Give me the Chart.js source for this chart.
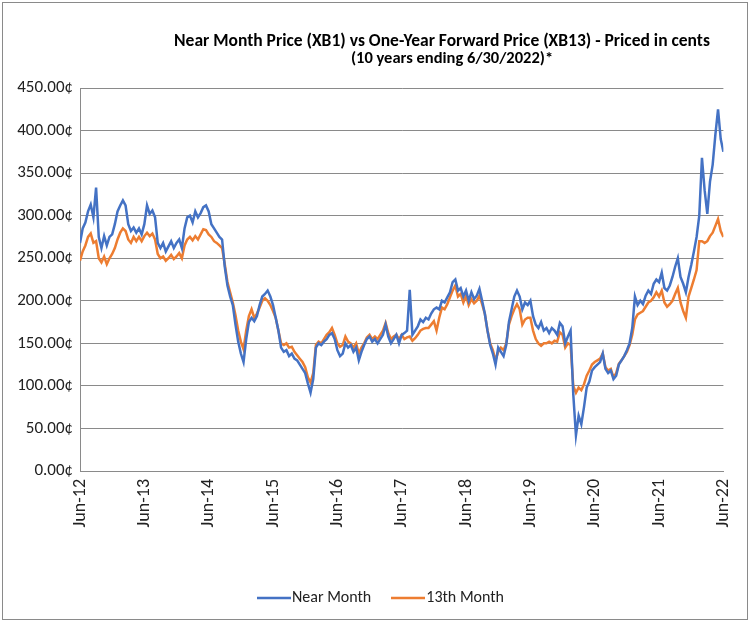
<!DOCTYPE html>
<html>
<head>
<meta charset="utf-8">
<script src="https://cdn.jsdelivr.net/npm/chart.js@4"></script>
<style>
  html, body { margin: 0; padding: 0; background: #fff; }
  #wrap { position: relative; width: 753px; height: 626px; }
  #frame { position: absolute; left: 2px; top: 2px; width: 746px; height: 618px; border: 1px solid #8a8a8a; box-sizing: border-box; pointer-events: none; }
  canvas { position: absolute; left: 0; top: 0; }
  .t { position: absolute; text-align: center; font-family: Carlito, Lato, "Open Sans", sans-serif; color: #000; font-weight: bold; white-space: nowrap; }
  #title { left: 142px; width: 600px; top: 29px; font-size: 17.5px; }
  #sub { left: 252px; width: 400px; top: 47px; font-size: 16.5px; }
</style>
</head>
<body>
<div id="wrap">
  <canvas id="c" width="753" height="626"></canvas>
  <div id="frame"></div>
  <div class="t" id="title">Near Month Price (XB1) vs One-Year Forward Price (XB13) - Priced in cents</div>
  <div class="t" id="sub">(10 years ending 6/30/2022)*</div>
</div>
<script>
// Semi-monthly readings, Jun-2012 .. Jun-2022 (step = half a month)
const stepMonths = 0.5;
const startYear = 12;
const tickYears = [12,13,14,15,16,17,18,19,20,21,22];
const seriesNames = ["Near Month", "13th Month"];
const seriesColors = ["#4472C4", "#ED7D31"];

const nearMonth = [
268,285,292,305,313,298,333,275,262,276,265,275,278,290,305,312,318,312,290,282,286,280,285,278,
290,312,302,306,298,268,262,268,258,264,270,262,268,272,262,285,298,300,292,305,298,303,310,312,
305,290,285,280,275,272,240,218,205,195,172,152,138,128,155,175,180,176,182,195,205,208,212,205,
195,180,165,145,140,142,135,138,132,130,125,120,115,103,92,108,145,150,148,152,155,160,162,155,
142,135,138,150,145,148,140,145,130,140,148,155,158,152,155,150,155,160,172,158,150,155,160,150,
160,162,165,213,160,165,170,178,175,180,178,185,190,192,190,200,198,204,210,222,225,212,215,205,
212,200,210,202,206,214,200,185,165,148,138,125,145,140,135,148,175,190,205,212,205,190,198,195,
200,182,172,168,175,165,168,162,168,165,160,174,170,150,158,165,90,42,65,55,75,98,105,118,
122,125,128,138,120,115,118,108,112,125,130,135,142,150,168,205,195,200,196,206,212,208,220,225,
222,233,215,212,218,228,240,250,228,220,210,228,242,258,275,300,368,330,302,340,360,395,425,390,
375
];

const month13 = [
247,258,265,275,279,268,270,250,245,252,243,250,255,262,272,280,285,282,272,268,275,270,275,270,
276,280,276,279,272,255,250,252,247,250,254,249,252,256,250,265,272,275,271,276,272,278,284,283,
278,275,270,268,265,262,243,222,210,198,183,165,152,143,165,182,190,180,185,192,200,203,200,195,
188,180,165,150,148,150,145,146,140,136,132,128,122,110,104,115,148,152,150,155,160,163,168,160,
150,146,148,158,152,150,145,150,138,145,150,157,160,155,158,155,160,165,174,162,155,158,160,155,
160,155,157,158,153,156,160,165,167,168,168,172,176,165,180,192,190,196,204,212,218,205,208,198,
206,195,202,197,200,206,196,185,165,150,142,130,140,145,142,150,172,182,190,196,190,172,178,180,
180,165,155,150,147,150,150,152,150,153,152,163,160,145,150,148,100,92,98,95,102,112,118,125,
128,130,132,138,122,118,120,110,115,126,130,135,140,148,160,178,184,186,188,193,198,200,204,210,
205,212,198,193,196,200,208,215,198,188,180,205,215,225,236,270,270,268,270,276,280,288,296,282,
275
];

const yTicks = { min: 0, max: 450, step: 50 };

const toPoints = arr => arr.map((v, i) => ({ x: i * stepMonths, y: v }));
const FONT = "Carlito, Lato, 'Open Sans', sans-serif";

// legend line swatch (a short line that ends right before the label text)
function swatch(color) {
  const c = document.createElement('canvas');
  c.width = 34; c.height = 4;
  const g = c.getContext('2d');
  g.strokeStyle = color; g.lineWidth = 2.5;
  g.beginPath(); g.moveTo(0, 2); g.lineTo(34, 2); g.stroke();
  return c;
}

const shiftLegend = {
  id: 'shiftLegend',
  afterLayout(chart) {
    if (chart.legend) { chart.legend.left += 18; chart.legend.right += 18; }
  }
};

new Chart(document.getElementById('c'), {
  type: 'line',
  data: {
    datasets: [
      { label: seriesNames[0], data: toPoints(nearMonth), borderColor: seriesColors[0], backgroundColor: seriesColors[0], borderWidth: 2.5, pointRadius: 0, pointStyle: swatch(seriesColors[0]), tension: 0 },
      { label: seriesNames[1], data: toPoints(month13), borderColor: seriesColors[1], backgroundColor: seriesColors[1], borderWidth: 2.5, pointRadius: 0, pointStyle: swatch(seriesColors[1]), tension: 0 }
    ]
  },
  plugins: [shiftLegend],
  options: {
    responsive: false,
    animation: false,
    layout: { padding: { left: 0, right: 21, top: 88, bottom: 10 } },
    plugins: {
      title: { display: false },
      tooltip: { enabled: false },
      legend: {
        position: 'bottom',
        labels: {
          usePointStyle: true, pointStyleWidth: 20,
          color: '#222', font: { family: FONT, size: 16 }, padding: 27
        }
      }
    },
    scales: {
      x: {
        type: 'linear', min: 0, max: (tickYears.length - 1) * 12,
        afterFit: s => { s.height = 92; },
        afterBuildTicks: s => { s.ticks = tickYears.map((y, i) => ({ value: i * 12 })); },
        grid: { display: false, drawTicks: false },
        border: { display: true, color: '#8a8a8a', width: 1 },
        ticks: {
          autoSkip: false, minRotation: 90, maxRotation: 90, padding: 8,
          color: '#222', font: { family: FONT, size: 18 },
          callback: v => 'Jun-' + (startYear + Math.round(v / 12))
        }
      },
      y: {
        min: yTicks.min, max: yTicks.max,
        afterFit: s => { s.width = 80; },
        grid: { color: '#8a8a8a', lineWidth: 1, drawTicks: false },
        border: { display: true, color: '#8a8a8a', width: 1 },
        ticks: {
          stepSize: yTicks.step, padding: 7,
          color: '#222', font: { family: FONT, size: 17 },
          callback: v => v.toFixed(2) + '\u00A2'
        }
      }
    }
  }
});
</script>
</body>
</html>
